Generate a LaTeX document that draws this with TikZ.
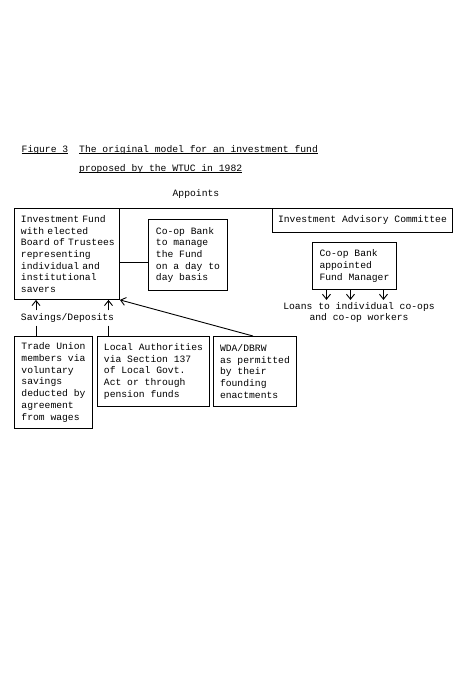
\documentclass[tikz,border=0pt]{standalone}
\usepackage{fontspec}
\usetikzlibrary{arrows.meta}
\newfontfamily\typewriter{Liberation Mono}
\newcommand\undertext[1]{\setbox0\hbox{#1}\rlap{\rule[-2.2pt]{\wd0}{0.8pt}}\box0}

\begin{document}
\begin{tikzpicture}[x=1pt, y=-1pt, >={Straight Barb[length=5pt,width=8pt]},
    every node/.style={font=\typewriter\fontsize{9.7}{11.7}\selectfont},
    box/.style={draw, line width=0.9pt, anchor=north west, align=left,
      inner xsep=6.5pt, inner ysep=4pt},
    plain/.style={inner sep=0pt},
    link/.style={line width=0.9pt}]
  \useasboundingbox (0,0) rectangle (454,696);
  % Title
  \node[plain, anchor=base west] (figlabel) at (21.5,152) {\undertext{Figure 3}};
  \node[plain, anchor=base west] (title1) at (79,152)
    {\undertext{The original model for an investment fund}};
  \node[plain, anchor=base west] (title2) at (79,171)
    {\undertext{proposed by the WTUC in 1982}};
  % Boxes
  \node[box, text width=92pt, minimum height=91pt] (fund) at (14,208)
    {Investment Fund\\with elected\\\mbox{Board of Trustees}\\representing\\individual and\\institutional\\savers};
  \node[box, minimum width=79pt, minimum height=71pt] (bank) at (148,219)
    {Co-op Bank\\to manage\\the Fund\\on a day to\\day basis};
  \node[box, inner xsep=5.5pt, minimum width=180pt, minimum height=24pt] (advisory) at (272,208)
    {Investment Advisory Committee};
  \node[box, minimum width=84pt, minimum height=47pt] (manager) at (312,242)
    {Co-op Bank\\appointed\\Fund Manager};
  \node[box, minimum width=78pt, minimum height=92pt] (union) at (14,336)
    {Trade Union\\members via\\voluntary\\savings\\deducted by\\agreement\\from wages};
  \node[box, minimum width=111pt, minimum height=70pt] (local) at (97,336)
    {Local Authorities\\via Section 137\\of Local Govt.\\Act or through\\pension funds};
  \node[box, minimum width=83pt, minimum height=70pt] (wda) at (213,336)
    {WDA/DBRW\\as permitted\\by their\\founding\\enactments};
  % Free labels
  \node[plain] (savings) at (67.5,318) {Savings/Deposits};
  \node[plain, align=center] (loans) at (359,312.5)
    {Loans to individual co-ops\\and co-op workers};
  % Connectors
  \draw[link] (fund.north east) -- node[above=6pt] {Appoints} (advisory.north west);
  \draw[link] ([yshift=-7pt]bank.west) -- ([yshift=-7pt]bank.west -| fund.east);
  \coordinate (s1) at (36,0);
  \coordinate (s2) at (108.5,0);
  \foreach \s in {s1,s2} {
    \draw[link, ->] ([yshift=3pt]\s |- savings.north) -- (\s |- fund.south);
    \draw[link] ([yshift=-3pt]\s |- savings.south) -- (\s |- union.north);
  }
  \draw[link, ->] ([xshift=-2pt]wda.north) -- (fund.south east);
  \foreach \dx in {-28,-4,29}
    \draw[link, ->] ([xshift=\dx pt]manager.south) -- ([xshift=\dx pt, yshift=2pt]manager.south |- loans.north);
\end{tikzpicture}
\end{document}
